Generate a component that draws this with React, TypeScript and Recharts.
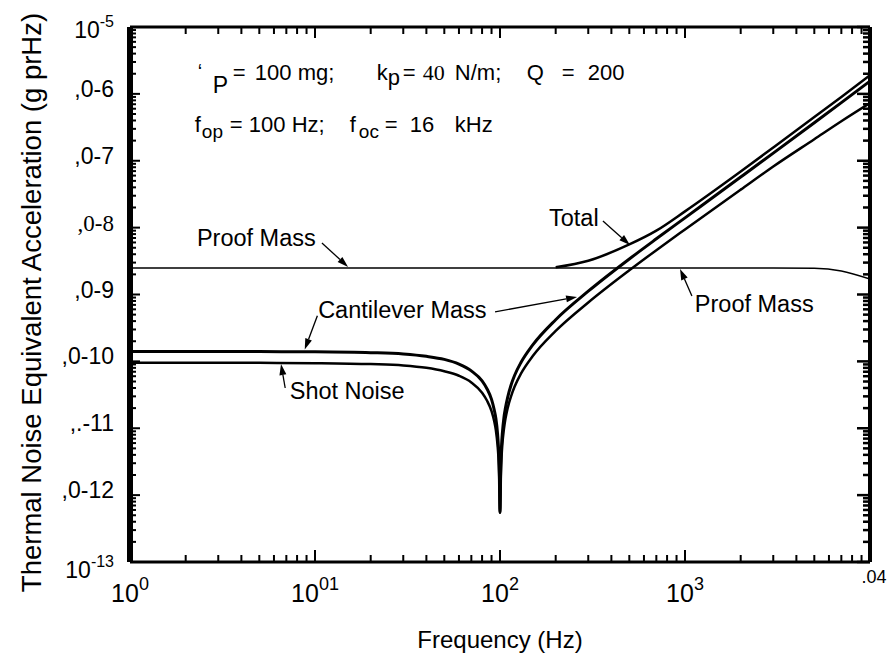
import React from 'react'
import { LineChart, Line, XAxis, YAxis, ReferenceLine, ReferenceDot, Label } from 'recharts'

const FONT = '"Liberation Sans", Arial, Helvetica, sans-serif'
const SERIF = '"Liberation Serif", "Times New Roman", serif'

// chart box and axis band sizes
const W = 896
const H = 667
const LEFT_W = 130
const RIGHT_W = 26
const TOP_H = 27
const BOTTOM_H = 105
const plotTop = TOP_H
const plotBottom = H - BOTTOM_H

// frequency points (Hz) the curves were read at
const freqHz = [
  1, 2, 5, 10, 20, 30, 40, 50, 60, 70, 80, 85, 90, 93, 95, 97, 98, 99, 100, 101, 102, 103, 105, 107,
  110, 115, 120, 130, 150, 200, 300, 500, 700, 1000, 2000, 3000, 5000, 7000, 10000,
]

// noise equivalent acceleration, g/rtHz
const proofMass = [
  2.5e-9, 2.5e-9, 2.5e-9, 2.5e-9, 2.5e-9, 2.5e-9, 2.5e-9, 2.5e-9, 2.5e-9, 2.5e-9, 2.5e-9, 2.5e-9,
  2.5e-9, 2.5e-9, 2.5e-9, 2.5e-9, 2.5e-9, 2.5e-9, 2.5e-9, 2.5e-9, 2.5e-9, 2.5e-9, 2.5e-9, 2.5e-9,
  2.5e-9, 2.5e-9, 2.5e-9, 2.5e-9, 2.5e-9, 2.5e-9, 2.5e-9, 2.5e-9, 2.5e-9, 2.5e-9, 2.5e-9, 2.5e-9,
  2.47e-9, 2.25e-9, 1.7e-9,
]

const cantileverMass = [
  1.4e-10, 1.4e-10, 1.4e-10, 1.39e-10, 1.35e-10, 1.29e-10, 1.19e-10, 1.07e-10, 9.1e-11, 7.2e-11,
  5.1e-11, 3.9e-11, 2.7e-11, 1.9e-11, 1.4e-11, 8.3e-12, 5.5e-12, 2.8e-12, 5.5e-13, 2.8e-12, 5.7e-12,
  8.5e-12, 1.44e-11, 2.0e-11, 2.9e-11, 4.5e-11, 6.2e-11, 9.7e-11, 1.75e-10, 4.2e-10, 1.12e-9, 3.4e-9,
  6.8e-9, 1.4e-8, 5.7e-8, 1.3e-7, 3.7e-7, 7.4e-7, 1.55e-6,
]

const shotNoise = [
  9.5e-11, 9.5e-11, 9.5e-11, 9.4e-11, 9.1e-11, 8.7e-11, 8.0e-11, 7.1e-11, 6.1e-11, 4.85e-11,
  3.4e-11, 2.6e-11, 1.8e-11, 1.28e-11, 9.3e-12, 5.6e-12, 3.8e-12, 1.9e-12, 5.5e-13, 1.9e-12, 3.8e-12,
  5.8e-12, 9.7e-12, 1.38e-11, 2.0e-11, 3.06e-11, 4.2e-11, 6.6e-11, 1.19e-10, 2.85e-10, 7.6e-10, 2.3e-9,
  4.6e-9, 9.4e-9, 3.7e-8, 8.2e-8, 2.1e-7, 3.9e-7, 7.3e-7,
]

const total = [
  null, null, null, null, null, null, null, null, null, null, null, null, null, null,
  null, null, null, null, null, null, null, null, null, null, null, null, null, null,
  null, 2.55e-9, 3.2e-9, 5.6e-9, 9.0e-9, 1.75e-8, 6.9e-8, 1.58e-7, 4.5e-7, 9.0e-7, 1.9e-6,
]

const xMajor = [1, 10, 100, 1000, 10000]
const xTickLabels = [
  { base: '10', sup: '0' },
  { base: '10', sup: '01' },
  { base: '10', sup: '2' },
  { base: '10', sup: '3' },
  { base: '', sup: '.04' },
]

const yMajor = [1e-13, 1e-12, 1e-11, 1e-10, 1e-9, 1e-8, 1e-7, 1e-6, 1e-5]
const yTickLabels = [
  { base: '10', sup: '-13' },
  { base: ',0-12', sup: '' },
  { base: ',.-11', sup: '' },
  { base: ',0-10', sup: '' },
  { base: ',0-9', sup: '' },
  { base: ',0-8', sup: '' },
  { base: ',0-7', sup: '' },
  { base: ',0-6', sup: '' },
  { base: '10', sup: '-5' },
]

const notes = [
  { text: 'Proof Mass', f: 2.3, v: 5.3e-9 },
  { text: 'Total', f: 184, v: 1.06e-8 },
  { text: 'Cantilever Mass', f: 10.4, v: 4.46e-10 },
  { text: 'Shot Noise', f: 7.3, v: 2.74e-11 },
  { text: 'Proof Mass', f: 1130, v: 5.47e-10 },
]

const arrows = [
  { from: [10.9, 5.9e-9], to: [15.1, 2.58e-9] },
  { from: [360, 1.26e-8], to: [504, 5.5e-9] },
  { from: [94, 5.5e-10], to: [261, 9.2e-10] },
  { from: [10.3, 4.8e-10], to: [8.8, 1.5e-10] },
  { from: [6.9, 4.0e-11], to: [6.55, 9.1e-11] },
  { from: [1090, 9.5e-10], to: [940, 2.41e-9] },
]

const data = freqHz.map((f, i) => ({
  f,
  proofMass: proofMass[i],
  cantileverMass: cantileverMass[i],
  shotNoise: shotNoise[i],
  total: total[i],
}))

// 2..9 minor ticks for each decade
const minorTicks = (from: number, to: number) => {
  const out: number[] = []
  for (let e = from; e < to; e++) {
    for (let k = 2; k <= 9; k++) out.push(Number((k * Math.pow(10, e)).toPrecision(2)))
  }
  return out
}
const xMinor = minorTicks(0, 4)
const yMinor = minorTicks(-13, -5)

// labels only; the tick marks are drawn inside the frame by reference lines
const BottomTick = (p: any) => {
  const { x, payload } = p
  const y = plotBottom
  const i = xMajor.indexOf(payload.value)
  const lab = i >= 0 ? xTickLabels[i] : null
  if (!lab) return <g />
  if (!lab.base) {
    return (
      <text x={x + 4} y={y + 21} textAnchor="middle" fontFamily={FONT} fontSize={18} fill="#000">
        {lab.sup}
      </text>
    )
  }
  return (
    <text x={x} y={y + 40} textAnchor="middle" fontFamily={FONT} fontSize={25} fill="#000">
      <tspan>{lab.base}</tspan>
      <tspan dy={-12} fontSize={18}>
        {lab.sup}
      </tspan>
    </text>
  )
}

const LeftTick = (p: any) => {
  const { y, payload } = p
  const i = yMajor.indexOf(payload.value)
  const lab = i >= 0 ? yTickLabels[i] : null
  if (!lab) return <g />
  const dy = i === 0 ? 16 : i === yMajor.length - 1 ? 11 : 3
  return (
    <text
      x={LEFT_W - 16}
      y={y + dy}
      textAnchor="end"
      fontFamily={lab.base === ',0-8' ? SERIF : FONT}
      fontSize={23}
      fill="#000"
    >
      <tspan>{lab.base}</tspan>
      {lab.sup && (
        <tspan dy={-11} fontSize={16}>
          {lab.sup}
        </tspan>
      )}
    </text>
  )
}

// inward tick marks at both ends of a full-height reference line
const xTickMark = (major: boolean) => (p: any) => {
  const { x1, y1, y2 } = p
  const top = Math.min(y1, y2)
  const bottom = Math.max(y1, y2)
  return (
    <g>
      <rect x={x1 - 1} y={bottom - (major ? 12 : 7)} width={2} height={major ? 12 : 7} fill="#000" />
      <rect x={x1 - 1} y={top} width={2} height={major ? 11 : 7} fill="#000" />
    </g>
  )
}

const yTickMark = (major: boolean) => (p: any) => {
  const { x1, x2, y1 } = p
  const left = Math.min(x1, x2)
  const right = Math.max(x1, x2)
  const rl = major ? 13 : 7
  return (
    <g>
      <rect x={left} y={y1 - 1} width={major ? 10 : 6} height={2} fill="#000" />
      <rect x={right - rl} y={y1 - 1.25} width={rl} height={2.5} fill="#000" />
    </g>
  )
}

const ArrowShape = (p: any) => {
  const { x1, y1, x2, y2 } = p
  const a = Math.atan2(y2 - y1, x2 - x1)
  const len = 11
  const w = 3.5
  const bx = x2 - len * Math.cos(a)
  const by = y2 - len * Math.sin(a)
  const pts = `${x2},${y2} ${bx + w * Math.sin(a)},${by - w * Math.cos(a)} ${bx - w * Math.sin(a)},${by + w * Math.cos(a)}`
  return (
    <g>
      <line x1={x1} y1={y1} x2={bx} y2={by} stroke="#000" strokeWidth={1.3} />
      <polygon points={pts} fill="#000" />
    </g>
  )
}

const NoteText = (text: string) => (p: any) => (
  <text x={p.cx} y={p.cy} fontFamily={FONT} fontSize={23.5} fill="#000">
    {text}
  </text>
)

// parameter block in the upper left
const ParamsShape = (p: any) => {
  const { cx, cy } = p
  const t = (dx: number, dy: number, s: string, size = 22, family = FONT) => (
    <text x={cx + dx} y={cy + dy} fontFamily={family} fontSize={size} fill="#000">
      {s}
    </text>
  )
  return (
    <g>
      {t(2, -2, '‘', 20)}
      {t(17, 13, 'P', 23)}
      {t(37, 0, '=')}
      {t(59, 0, '100 mg;')}
      {t(181, 0, 'k')}
      {t(192, 5, 'p')}
      {t(207, 0, '=')}
      {t(227, 0, '40', 22, SERIF)}
      {t(259, 0, 'N/m;')}
      {t(331, 0, 'Q')}
      {t(366, 0, '=')}
      {t(392, 0, '200')}
      {t(-1, 52, 'f')}
      {t(6, 58, 'op', 19)}
      {t(34, 52, '= 100 Hz;')}
      {t(154, 52, 'f')}
      {t(163, 58, 'oc', 19)}
      {t(189, 52, '=')}
      {t(214, 52, '16')}
      {t(259, 52, 'kHz')}
    </g>
  )
}

const logX = {
  dataKey: 'f',
  type: 'number' as const,
  scale: 'log' as const,
  domain: [1, 10000],
  allowDataOverflow: true,
  ticks: xMajor,
  interval: 0 as const,
  tickSize: 0,
  tickMargin: 0,
  tickLine: false,
}

const logY = {
  type: 'number' as const,
  scale: 'log' as const,
  domain: [1e-13, 1e-5],
  allowDataOverflow: true,
  ticks: yMajor,
  interval: 0 as const,
  tickSize: 0,
  tickMargin: 0,
  tickLine: false,
}

export default function App() {
  return (
    <div style={{ position: 'absolute', left: 0, top: 0, background: '#fff' }}>
      <LineChart width={W} height={H} data={data} margin={{ top: 0, right: 0, bottom: 0, left: 0 }}>
        <XAxis
          {...logX}
          tick={(p: any) => <BottomTick {...p} />}
          axisLine={{ stroke: '#000', strokeWidth: 3 }}
          height={BOTTOM_H}
        >
          <Label
            content={(p: any) => (
              <text
                x={p.viewBox.x + p.viewBox.width / 2}
                y={plotBottom + 86}
                textAnchor="middle"
                fontFamily='"Liberation Sans Narrow", "Liberation Sans", Arial, sans-serif'
                fontSize={24}
                fill="#000"
              >
                Frequency  (Hz)
              </text>
            )}
          />
        </XAxis>
        <XAxis
          {...logX}
          xAxisId="top"
          orientation="top"
          tick={false}
          axisLine={{ stroke: '#000', strokeWidth: 3 }}
          height={TOP_H}
        />
        <YAxis
          {...logY}
          tick={(p: any) => <LeftTick {...p} />}
          axisLine={{ stroke: '#000', strokeWidth: 6 }}
          width={LEFT_W}
        >
          <Label
            content={() => {
              const x = 31
              const y = (plotTop + plotBottom) / 2 + 8
              return (
                <text
                  x={x}
                  y={y}
                  transform={`rotate(-90 ${x} ${y})`}
                  textAnchor="middle"
                  dominantBaseline="central"
                  fontFamily={FONT}
                  fontSize={27.5}
                  fill="#000"
                >
                  Thermal Noise Equivalent Acceleration (g prHz)
                </text>
              )
            }}
          />
        </YAxis>
        <YAxis
          {...logY}
          yAxisId="right"
          orientation="right"
          tick={false}
          axisLine={{ stroke: '#000', strokeWidth: 4 }}
          width={RIGHT_W}
        />

        {[...xMajor, ...xMinor].map((v) => (
          <ReferenceLine key={`xt-${v}`} x={v} shape={xTickMark(xMajor.includes(v))} />
        ))}
        {[...yMajor, ...yMinor].map((v) => (
          <ReferenceLine key={`yt-${v}`} y={v} shape={yTickMark(yMajor.includes(v))} />
        ))}

        <Line dataKey="proofMass" type="monotone" stroke="#000" strokeWidth={1.5} dot={false} activeDot={false} isAnimationActive={false} />
        <Line dataKey="shotNoise" type="monotone" stroke="#000" strokeWidth={2.5} dot={false} activeDot={false} isAnimationActive={false} />
        <Line dataKey="cantileverMass" type="monotone" stroke="#000" strokeWidth={3} dot={false} activeDot={false} isAnimationActive={false} />
        <Line dataKey="total" type="monotone" stroke="#000" strokeWidth={2.5} dot={false} activeDot={false} isAnimationActive={false} />

        {arrows.map((a, i) => (
          <ReferenceLine
            key={`arrow-${i}`}
            segment={[
              { x: a.from[0], y: a.from[1] },
              { x: a.to[0], y: a.to[1] },
            ]}
            shape={ArrowShape}
          />
        ))}
        {notes.map((n, i) => (
          <ReferenceDot key={`note-${i}`} x={n.f} y={n.v} r={0} shape={NoteText(n.text)} />
        ))}
        <ReferenceDot x={2.27} y={1.61e-6} r={0} shape={ParamsShape} />
      </LineChart>
    </div>
  )
}
